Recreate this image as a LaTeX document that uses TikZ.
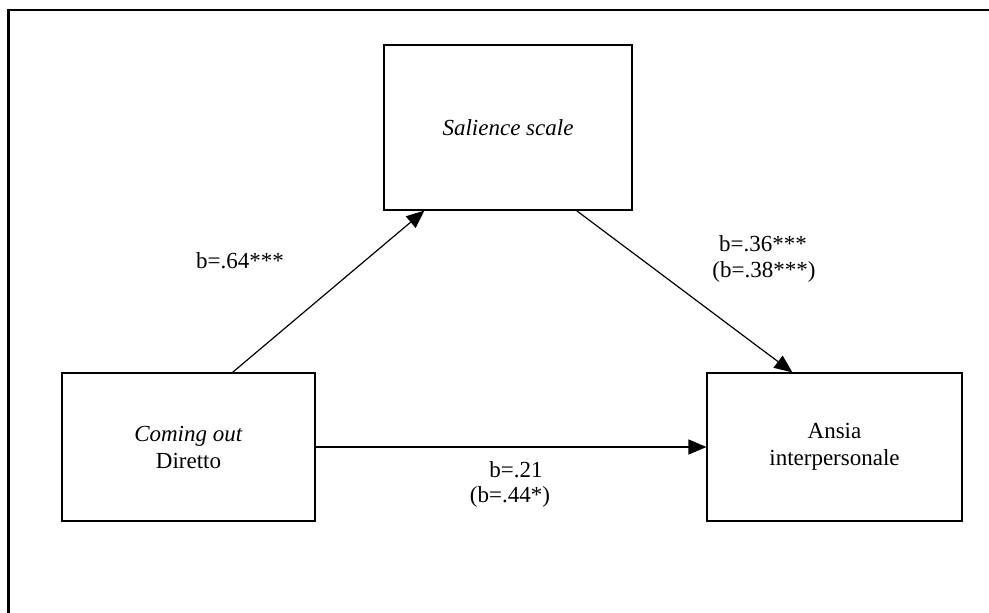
\documentclass[tikz,border=0pt]{standalone}
\usepackage{fontspec}
\setmainfont{Liberation Serif}
\usetikzlibrary{arrows.meta, positioning}
\tikzset{
    varbox/.style={draw, line width=1.1pt, minimum width=250pt, minimum height=148pt,
        align=center, font=\fontsize{23}{27}\selectfont},
    coef/.style={font=\fontsize{23}{27}\selectfont, inner sep=0pt},
    path/.style={line width=1.2pt, -{Triangle[length=18pt, width=15pt]}},
}

\begin{document}
\begin{tikzpicture}[x=1pt, y=-1pt]
    \useasboundingbox (0, 0) rectangle (989, 613);
    % open frame
    \draw[line width=2.8pt] (8.5, 613) -- (8.5, 10) -- (989, 10);
    % variables
    \node[varbox, minimum width=248pt, minimum height=165pt] (sal) at (508, 127.5) {\textit{Salience scale}};
    \node[varbox, minimum width=253pt] (cout) at (188.5, 447) {\textit{Coming out}\\Diretto};
    \node[varbox, minimum width=255pt] (ans) at (834.5, 447) {Ansia\\interpersonale};
    % paths
    \draw[path] ([xshift=171pt]cout.north west) -- ([xshift=41pt]sal.south west);
    \draw[path] ([xshift=193pt]sal.south west) -- ([xshift=86pt]ans.north west);
    \draw[path] (cout.east) -- (ans.west);
    % coefficients
    \node[coef] (a) at (240, 261) {b=.64***};
    \node[coef] (b1) at (763, 244) {b=.36***};
    \node[coef] (b2) at (764, 272) {(b=.38***)};
    \node[coef] (c1) at (516, 470) {b=.21};
    \node[coef] (c2) at (510, 497) {(b=.44*)};
\end{tikzpicture}
\end{document}
